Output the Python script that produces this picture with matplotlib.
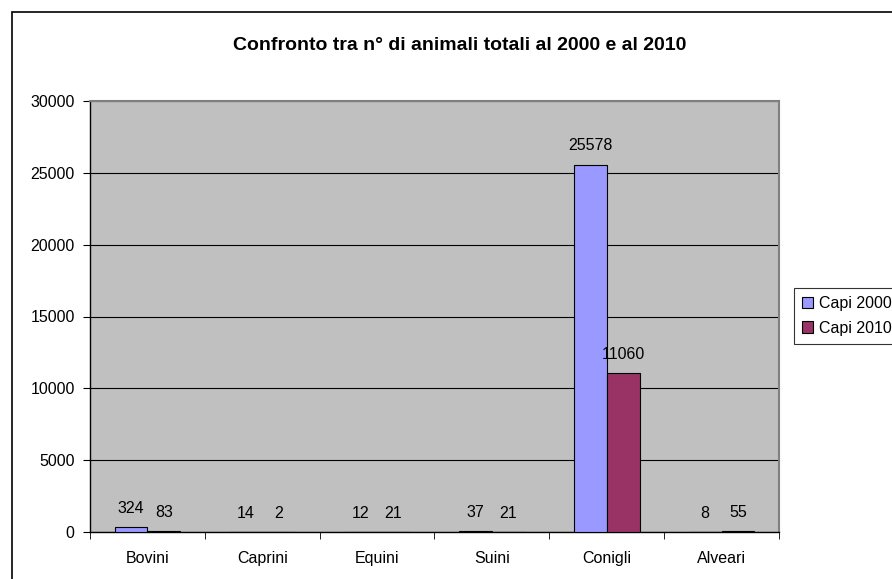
import numpy as np
import matplotlib.pyplot as plt
from matplotlib.patches import Rectangle

plt.rcParams['font.family'] = ['Liberation Sans', 'DejaVu Sans']

categorie = ['Bovini', 'Caprini', 'Equini', 'Suini', 'Conigli', 'Alveari']
capi_2000 = [324, 14, 12, 37, 25578, 8]
capi_2010 = [83, 2, 21, 21, 11060, 55]

W, H = 892, 579
fig = plt.figure(figsize=(W / 100, H / 100), dpi=100)

# cornice esterna del grafico
fig.patches.append(Rectangle((12 / W, -0.1), 1.2, 1 - 12 / H + 0.1,
                             transform=fig.transFigure, fill=False,
                             edgecolor='black', linewidth=1.2))

ax = fig.add_axes([90 / W, 1 - 532 / H, (779 - 90) / W, (532 - 101) / H])
ax.set_facecolor('#c0c0c0')

x = np.arange(len(categorie))
w = 1 / 3.5
b1 = ax.bar(x - w / 2, capi_2000, w, color='#9999ff', edgecolor='black',
            linewidth=0.8, label='Capi 2000', zorder=3)
b2 = ax.bar(x + w / 2, capi_2010, w, color='#993366', edgecolor='black',
            linewidth=0.8, label='Capi 2010', zorder=3)
ax.bar_label(b1, padding=8, fontsize=11.5)
ax.bar_label(b2, padding=8, fontsize=11.5)

ax.set_xlim(-0.5, len(categorie) - 0.5)
ax.set_ylim(0, 30000)
ax.set_yticks(range(0, 30001, 5000))
ax.grid(axis='y', color='black', linewidth=0.8, zorder=1)
ax.set_axisbelow(True)

ax.set_xticks(x)
ax.set_xticklabels(categorie, fontsize=11.5)
ax.set_xticks(np.arange(-0.5, len(categorie)), minor=True)
ax.tick_params(axis='x', which='major', length=0, pad=14)
ax.tick_params(axis='x', which='minor', length=5, direction='out')
ax.tick_params(axis='y', length=5, direction='out', labelsize=11.5, pad=6)

for s in ['top', 'right']:
    ax.spines[s].set_color('#808080')
    ax.spines[s].set_linewidth(1.5)
for s in ['left', 'bottom']:
    ax.spines[s].set_color('black')
    ax.spines[s].set_linewidth(1)

fig.text(460 / W, 1 - 46 / H, 'Confronto tra n° di animali totali al 2000 e al 2010',
         ha='center', va='center', fontsize=14, fontweight='bold')

leg = fig.legend(handles=[b1, b2], loc='upper left',
                 bbox_to_anchor=(794 / W, 1 - 288 / H), fontsize=11.5,
                 frameon=True, fancybox=False, edgecolor='black',
                 handlelength=0.7, handleheight=0.7, handletextpad=0.35,
                 borderpad=0.5, labelspacing=0.6, borderaxespad=0)
leg.get_frame().set_linewidth(0.8)

fig.savefig('out.png', dpi=100)
